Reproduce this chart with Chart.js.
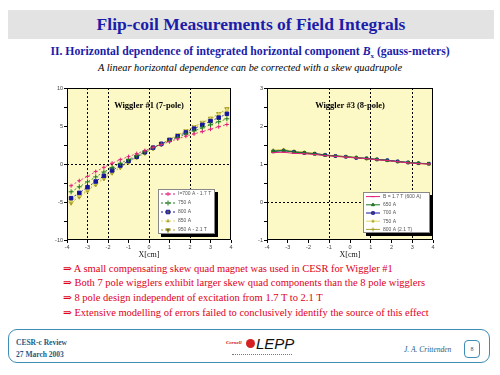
<!DOCTYPE html>
<html>
<head>
<meta charset="utf-8">
<script src="https://cdn.jsdelivr.net/npm/chart.js@4.4.0/dist/chart.umd.min.js"></script>
<style>
  body { margin:0; background:#fff; width:500px; height:375px; position:relative; overflow:hidden; font-family:"Liberation Serif", "DejaVu Serif", serif; }
  .abs { position:absolute; white-space:nowrap; }
  #titlebar { left:8px; top:10px; width:486px; height:29px; background:#e3e3e3; color:#1c1caa; font-weight:bold; font-size:17.5px; line-height:29px; text-align:center; }
  #sub { left:0; width:500px; top:45px; text-align:center; color:#1c1caa; font-weight:bold; font-size:11.7px; }
  #sub2 { left:0; width:500px; top:62px; text-align:center; font-style:italic; font-size:10.4px; color:#000; }
  .bul { left:63px; color:#e0001b; font-size:10.5px; }
  #foot { left:8px; top:329px; width:480px; height:32px; border:1.5px solid #3d8db5; border-radius:9px; }
  .ft { color:#1b5c86; font-size:7.5px; font-weight:bold; }
  canvas { position:absolute; }
</style>
</head>
<body>
<div id="titlebar" class="abs">Flip-coil Measurements of Field Integrals</div>
<div id="sub" class="abs">II. Horizontal dependence of integrated horizontal component <i>B</i><sub style="font-size:7px">x</sub> (gauss-meters)</div>
<div id="sub2" class="abs">A linear horizontal dependence can be corrected with a skew quadrupole</div>

<canvas id="left" width="200" height="178" style="left:45px;top:82px"></canvas>
<canvas id="right" width="200" height="178" style="left:245px;top:82px"></canvas>

<div class="abs bul" style="top:262px">&rArr; A small compensating skew quad magnet was used in CESR for Wiggler #1</div>
<div class="abs bul" style="top:276px">&rArr; Both 7 pole wigglers exhibit larger skew quad components than the 8 pole wigglers</div>
<div class="abs bul" style="top:291px">&rArr; 8 pole design independent of excitation from 1.7 T to 2.1 T</div>
<div class="abs bul" style="top:306px">&rArr; Extensive modelling of errors failed to conclusively identify the source of this effect</div>

<div id="foot" class="abs"></div>
<div class="abs ft" style="left:16px;top:338px">CESR-c Review</div>
<div class="abs ft" style="left:16px;top:350px">27 March 2003</div>
<div class="abs" style="left:226px;top:340px;color:#d01010;font-size:5px;font-weight:bold;font-style:italic">Cornell</div>
<div class="abs" style="left:246px;top:339px;width:9px;height:9px;border-radius:50%;background:#d42020"></div>
<div class="abs" style="left:256px;top:335px;font-family:'Liberation Sans',sans-serif;font-style:italic;font-size:15px;color:#111">LEPP</div>
<div class="abs" style="left:232px;top:354px;width:60px;height:1px;border-top:1px dotted #777"></div>
<div class="abs" style="left:404px;top:345px;font-size:7.5px;font-style:italic;color:#1b5c86">J. A. Crittenden</div>
<div class="abs" style="left:464px;top:340px;width:14px;height:16px;border:1px solid #3d8db5;border-radius:4px;font-size:6px;text-align:center;line-height:16px;color:#1b5c86">8</div>

<script>
// Wiggler #1 (7-pole), X in cm
var leftX = [-3.8,-3.4,-3.0,-2.6,-2.2,-1.8,-1.4,-1.0,-0.6,-0.2,0.2,0.6,1.0,1.4,1.8,2.2,2.6,3.0,3.4,3.8];
var left1 = [-2.86,-2.2,-1.63,-1.0,-0.44,0.1,0.57,0.97,1.37,1.76,2.2,2.55,2.95,3.3,3.66,3.96,4.27,4.58,4.9,5.2];
var left2 = [-3.66,-3.0,-2.35,-1.7,-1.05,-0.45,0.1,0.6,1.1,1.6,2.15,2.6,3.05,3.5,3.95,4.35,4.75,5.15,5.55,5.95];
var left3 = [-4.5,-3.8,-3.05,-2.3,-1.55,-0.85,-0.2,0.4,0.95,1.55,2.15,2.65,3.15,3.65,4.15,4.65,5.15,5.65,6.1,6.6];
var left4 = [-4.85,-4.1,-3.3,-2.5,-1.7,-1.0,-0.3,0.35,0.9,1.5,2.1,2.65,3.2,3.75,4.3,4.85,5.4,5.9,6.5,7.1];
var left5 = [-5.1,-4.3,-3.5,-2.7,-1.9,-1.15,-0.45,0.25,0.85,1.45,2.05,2.65,3.25,3.8,4.35,4.9,5.45,6.0,6.6,7.25];
var leftNames = ['I=700 A - 1.7 T','750 A','800 A','850 A','950 A - 2.1 T'];

// Wiggler #3 (8-pole)
var rightX = [-3.7,-3.2,-2.7,-2.2,-1.7,-1.2,-0.7,-0.2,0.3,0.8,1.3,1.8,2.3,2.8,3.3,3.8];
var right1 = [1.30,1.31,1.28,1.27,1.25,1.22,1.20,1.18,1.16,1.14,1.11,1.09,1.06,1.03,1.01,1.00];
var right2 = [1.34,1.36,1.31,1.29,1.26,1.23,1.21,1.19,1.17,1.14,1.12,1.09,1.06,1.04,1.02,1.00];
var right3 = [1.33,1.35,1.32,1.29,1.27,1.24,1.21,1.19,1.16,1.15,1.12,1.10,1.07,1.04,1.02,1.01];
var right4 = [1.35,1.38,1.33,1.30,1.27,1.23,1.22,1.19,1.17,1.15,1.11,1.09,1.07,1.04,1.01,0.99];
var right5 = [1.36,1.37,1.34,1.31,1.28,1.24,1.21,1.20,1.17,1.14,1.12,1.10,1.06,1.03,1.02,1.00];
var rightNames = ['B = 1.7 T (600 A)','650 A','700 A','750 A','800 A (2.1 T)'];

var xTicks = [-4,-3,-2,-1,0,1,2,3,4];
var leftGridX = [-3,-2,0,2];
var rightGridX = [-1,1,3];

var colors = ['#e0207a','#1f7a1f','#1414a0','#e0d860','#a8a028'];

function pts(xs, ys){
    return xs.map(function(x, i){ return {x: x, y: ys[i]}; });
}

// draws the yellow plot background, frame, inner title and the boxed legend
var panel = {
    id: 'panel',
    beforeDraw: function(chart){
        var a = chart.chartArea, c = chart.ctx;
        c.save();
        c.fillStyle = '#fdf9c6';
        c.fillRect(a.left, a.top, a.right - a.left, a.bottom - a.top);
        c.restore();
    },
    afterDraw: function(chart, args, o){
        var a = chart.chartArea, c = chart.ctx;
        c.save();
        c.strokeStyle = '#000';
        c.lineWidth = 1;
        c.strokeRect(a.left + 0.5, a.top + 0.5, a.right - a.left - 1, a.bottom - a.top - 1);
        c.fillStyle = '#000';
        c.font = 'bold 8.5px "Liberation Serif"';
        c.textAlign = 'center';
        c.fillText(o.title, (a.left + a.right) / 2, a.top + 20);

        var bx = a.right - o.boxRight - o.boxW, by = a.bottom - o.boxBottom - o.boxH;
        c.fillStyle = '#000';
        c.fillRect(bx + 3, by + 3, o.boxW, o.boxH);
        c.fillStyle = '#fff';
        c.fillRect(bx, by, o.boxW, o.boxH);
        c.strokeStyle = '#888';
        c.strokeRect(bx + 0.5, by + 0.5, o.boxW - 1, o.boxH - 1);
        var rowH = o.boxH / 5;
        chart.data.datasets.forEach(function(ds, i){
            var yy = by + rowH * (i + 0.5) + 0.5;
            if (ds.showLine !== false && ds.borderWidth > 0) {
                c.strokeStyle = ds.borderColor;
                c.lineWidth = 1;
                c.setLineDash(ds.borderDash || []);
                c.beginPath();
                c.moveTo(bx + 3, yy);
                c.lineTo(bx + 17, yy);
                c.stroke();
                c.setLineDash([]);
            }
            Chart.helpers.drawPoint(c, {
                pointStyle: ds.pointStyle, radius: ds.pointRadius, rotation: ds.pointRotation || 0,
                borderWidth: 1
            }, bx + 10, yy);
            c.fillStyle = '#555';
            c.font = '5px "Liberation Sans"';
            c.textAlign = 'left';
            c.textBaseline = 'middle';
            c.fillText(ds.label, bx + 20, yy);
        });
        c.restore();
    }
};

function makeSets(xs, series, names, styles){
    return series.map(function(s, i){
        var st = styles[i];
        return {
            label: names[i],
            data: pts(xs, s),
            borderColor: colors[i],
            backgroundColor: colors[i],
            pointBorderColor: colors[i],
            borderWidth: st.lw,
            borderDash: st.dash,
            pointStyle: st.ps,
            pointRotation: st.rot || 0,
            pointRadius: st.r,
            pointBorderWidth: 1,
            showLine: true
        };
    });
}

function axes(xmin, xmax, ymin, ymax, ystep, ylab, gridX, gridY){
    return {
        x: {
            type: 'linear', min: xmin, max: xmax,
            afterBuildTicks: function(s){ s.ticks = xTicks.map(function(v){ return {value: v}; }); },
            afterFit: function(s){ s.height = 20; },
            grid: {
                color: function(ctx){ return gridX.indexOf(ctx.tick.value) >= 0 ? '#000' : 'rgba(0,0,0,0)'; },
                tickColor: '#000', tickLength: 3, lineWidth: 1
            },
            border: { display: false, dash: [2, 2] },
            ticks: { font: {size: 5.5}, color: '#444', padding: 1, maxRotation: 0 },
            title: { display: true, text: 'X[cm]', font: {size: 8, family: 'Liberation Serif'}, color: '#111', padding: 0 }
        },
        y: {
            type: 'linear', min: ymin, max: ymax,
            afterFit: function(s){ s.width = 22; },
            grid: {
                color: function(ctx){ return gridY.indexOf(ctx.tick.value) >= 0 ? '#000' : 'rgba(0,0,0,0)'; },
                tickColor: '#000', tickLength: 3
            },
            border: { display: false, dash: [2, 2] },
            ticks: {
                stepSize: ystep, font: {size: 5.5}, color: '#444', padding: 1,
                callback: function(v){ return Math.abs(v % ylab) < 1e-6 ? v : ''; }
            }
        }
    };
}

new Chart(document.getElementById('left'), {
    type: 'scatter',
    data: {
        datasets: makeSets(leftX, [left1, left2, left3, left4, left5], leftNames, [
            {lw: 0.8, dash: [2, 2], ps: 'cross', r: 2},
            {lw: 0.8, dash: [2, 2], ps: 'cross', r: 2.5},
            {lw: 0.8, dash: [2, 2], ps: 'rect', r: 2.5},
            {lw: 0.8, dash: [2, 2], ps: 'triangle', r: 2},
            {lw: 0.8, dash: [2, 2], ps: 'triangle', r: 2.5, rot: 180}
        ])
    },
    options: {
        responsive: false, animation: false, devicePixelRatio: 1,
        layout: { padding: {left: 0, top: 6, right: 14, bottom: 0} },
        scales: axes(-4, 4, -10, 10, 2.5, 5, leftGridX, [0]),
        plugins: {
            legend: {display: false}, tooltip: {enabled: false},
            panel: { title: 'Wiggler #1 (7-pole)', boxW: 57, boxH: 45, boxRight: 16, boxBottom: 6 }
        }
    },
    plugins: [panel]
});

new Chart(document.getElementById('right'), {
    type: 'scatter',
    data: {
        datasets: makeSets(rightX, [right1, right2, right3, right4, right5], rightNames, [
            {lw: 1, dash: [], ps: 'line', r: 2},
            {lw: 1, dash: [], ps: 'triangle', r: 1.8},
            {lw: 1, dash: [], ps: 'rect', r: 1.8},
            {lw: 1, dash: [], ps: 'rect', r: 1.5},
            {lw: 1, dash: [], ps: 'cross', r: 2}
        ])
    },
    options: {
        responsive: false, animation: false, devicePixelRatio: 1,
        layout: { padding: {left: 0, top: 6, right: 12, bottom: 0} },
        scales: axes(-4, 4, -1, 3, 0.5, 1, rightGridX, [0]),
        plugins: {
            legend: {display: false}, tooltip: {enabled: false},
            panel: { title: 'Wiggler #3 (8-pole)', boxW: 67, boxH: 41, boxRight: 3, boxBottom: 7 }
        }
    },
    plugins: [panel]
});
</script>
</body>
</html>
